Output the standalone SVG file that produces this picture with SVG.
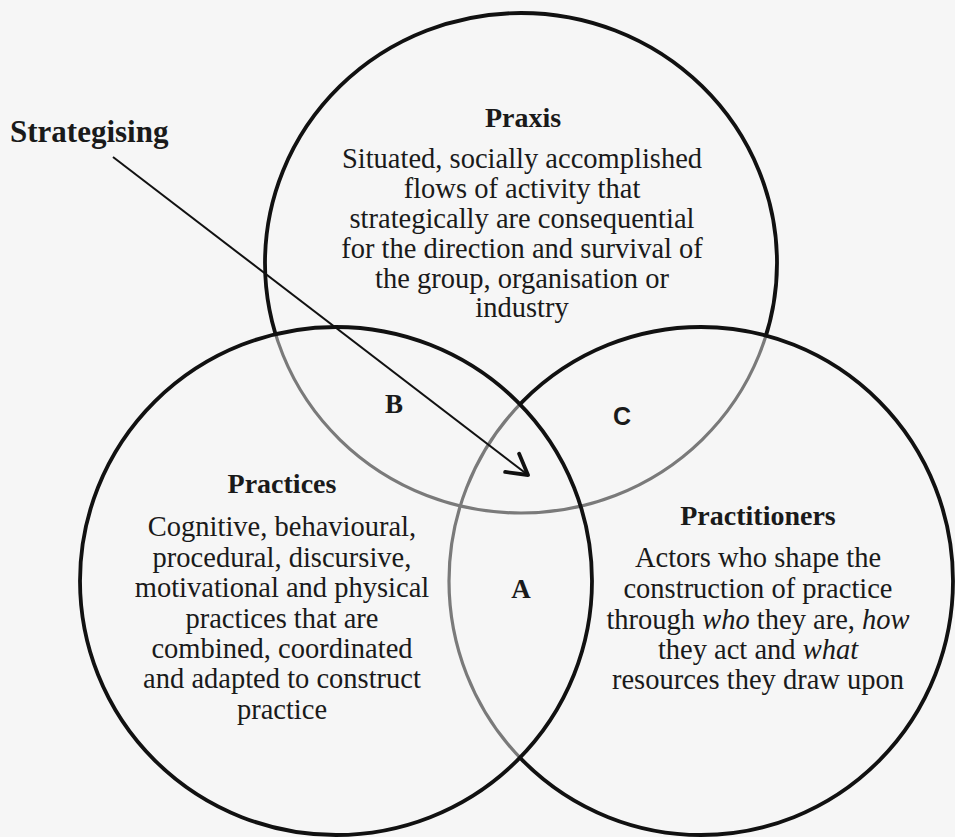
<svg xmlns="http://www.w3.org/2000/svg" width="955" height="837" viewBox="0 0 955 837">
  <style>
    .ring { fill: none; stroke: #111; stroke-width: 3.8; }
    .ring-under { fill: none; stroke: #7a7a7a; stroke-width: 3.2; }
    .title { font-family: "Liberation Serif", "Times New Roman", serif; font-weight: bold; font-size: 28px; fill: #1a1a1a; text-anchor: middle; }
    .body { font-family: "Liberation Serif", "Times New Roman", serif; font-size: 28.5px; fill: #1a1a1a; text-anchor: middle; }
    .region { font-family: "Liberation Serif", "Times New Roman", serif; font-weight: bold; font-size: 27px; fill: #1a1a1a; text-anchor: middle; }
    .region-sans { font-family: "Liberation Sans", Arial, sans-serif; font-weight: bold; font-size: 25px; fill: #1a1a1a; text-anchor: middle; }
    .side { font-family: "Liberation Serif", "Times New Roman", serif; font-weight: bold; font-size: 31px; fill: #1a1a1a; }
    .lead { fill: none; stroke: #111; stroke-width: 2; }
  </style>
  <defs>
    <!-- circle outlines are shared by the strokes and the masks -->
    <ellipse id="c-praxis" cx="521" cy="263" rx="256" ry="250"/>
    <ellipse id="c-practices" cx="336" cy="581" rx="256" ry="254"/>
    <ellipse id="c-practitioners" cx="701" cy="581" rx="252" ry="254"/>

    <mask id="m-outside-lower" maskUnits="userSpaceOnUse" x="0" y="0" width="955" height="837">
      <rect x="0" y="0" width="955" height="837" fill="#fff"/>
      <use href="#c-practices" fill="#000"/>
      <use href="#c-practitioners" fill="#000"/>
    </mask>
    <clipPath id="cp-inside-lower">
      <use href="#c-practices"/>
      <use href="#c-practitioners"/>
    </clipPath>
    <mask id="m-outside-practices" maskUnits="userSpaceOnUse" x="0" y="0" width="955" height="837">
      <rect x="0" y="0" width="955" height="837" fill="#fff"/>
      <use href="#c-practices" fill="#000"/>
    </mask>
    <clipPath id="cp-inside-practices">
      <use href="#c-practices"/>
    </clipPath>

    <marker id="open-head" markerUnits="userSpaceOnUse" markerWidth="30" markerHeight="30" refX="0" refY="0" viewBox="-26 -15 30 30" orient="auto" overflow="visible">
      <path d="M -20 -11.5 L 0 0 L -20 11.5" fill="none" stroke="#111" stroke-width="3.8" stroke-linecap="round" stroke-linejoin="round"/>
    </marker>
  </defs>

  <rect x="0" y="0" width="955" height="837" fill="#f6f6f6"/>

  <!-- Praxis: dark outside the lower circles, grey where it runs beneath them -->
  <g id="praxis">
    <use href="#c-praxis" class="ring-under" clip-path="url(#cp-inside-lower)"/>
    <use href="#c-praxis" class="ring" mask="url(#m-outside-lower)"/>
    <text class="title" x="523" y="127">Praxis</text>
    <text class="body" x="522" y="168">Situated, socially accomplished</text>
    <text class="body" x="522" y="198">flows of activity that</text>
    <text class="body" x="522" y="228">strategically are consequential</text>
    <text class="body" x="522" y="258">for the direction and survival of</text>
    <text class="body" x="522" y="288">the group, organisation or</text>
    <text class="body" x="522" y="317">industry</text>
  </g>

  <!-- Practitioners: grey where it passes beneath Practices -->
  <g id="practitioners">
    <use href="#c-practitioners" class="ring-under" clip-path="url(#cp-inside-practices)"/>
    <use href="#c-practitioners" class="ring" mask="url(#m-outside-practices)"/>
    <text class="title" x="758" y="525">Practitioners</text>
    <text class="body" x="758" y="567">Actors who shape the</text>
    <text class="body" x="758" y="598">construction of practice</text>
    <text class="body" x="758" y="629">through <tspan font-style="italic">who</tspan> they are, <tspan font-style="italic">how</tspan></text>
    <text class="body" x="758" y="659">they act and <tspan font-style="italic">what</tspan></text>
    <text class="body" x="758" y="689">resources they draw upon</text>
  </g>

  <!-- Practices: drawn on top, full outline -->
  <g id="practices">
    <use href="#c-practices" class="ring"/>
    <text class="title" x="282" y="493">Practices</text>
    <text class="body" x="282" y="536">Cognitive, behavioural,</text>
    <text class="body" x="282" y="567">procedural, discursive,</text>
    <text class="body" x="282" y="597">motivational and physical</text>
    <text class="body" x="282" y="628">practices that are</text>
    <text class="body" x="282" y="658">combined, coordinated</text>
    <text class="body" x="282" y="688">and adapted to construct</text>
    <text class="body" x="282" y="719">practice</text>
  </g>

  <!-- overlap region letters -->
  <g id="region-a"><text class="region" x="521" y="598">A</text></g>
  <g id="region-b"><text class="region" x="394" y="413">B</text></g>
  <g id="region-c"><text class="region-sans" x="622" y="425">C</text></g>

  <g id="strategising">
    <text class="side" x="10" y="142">Strategising</text>
  </g>

  <g id="connectors">
    <line class="lead" x1="113" y1="157" x2="528" y2="475" marker-end="url(#open-head)"/>
  </g>
</svg>
